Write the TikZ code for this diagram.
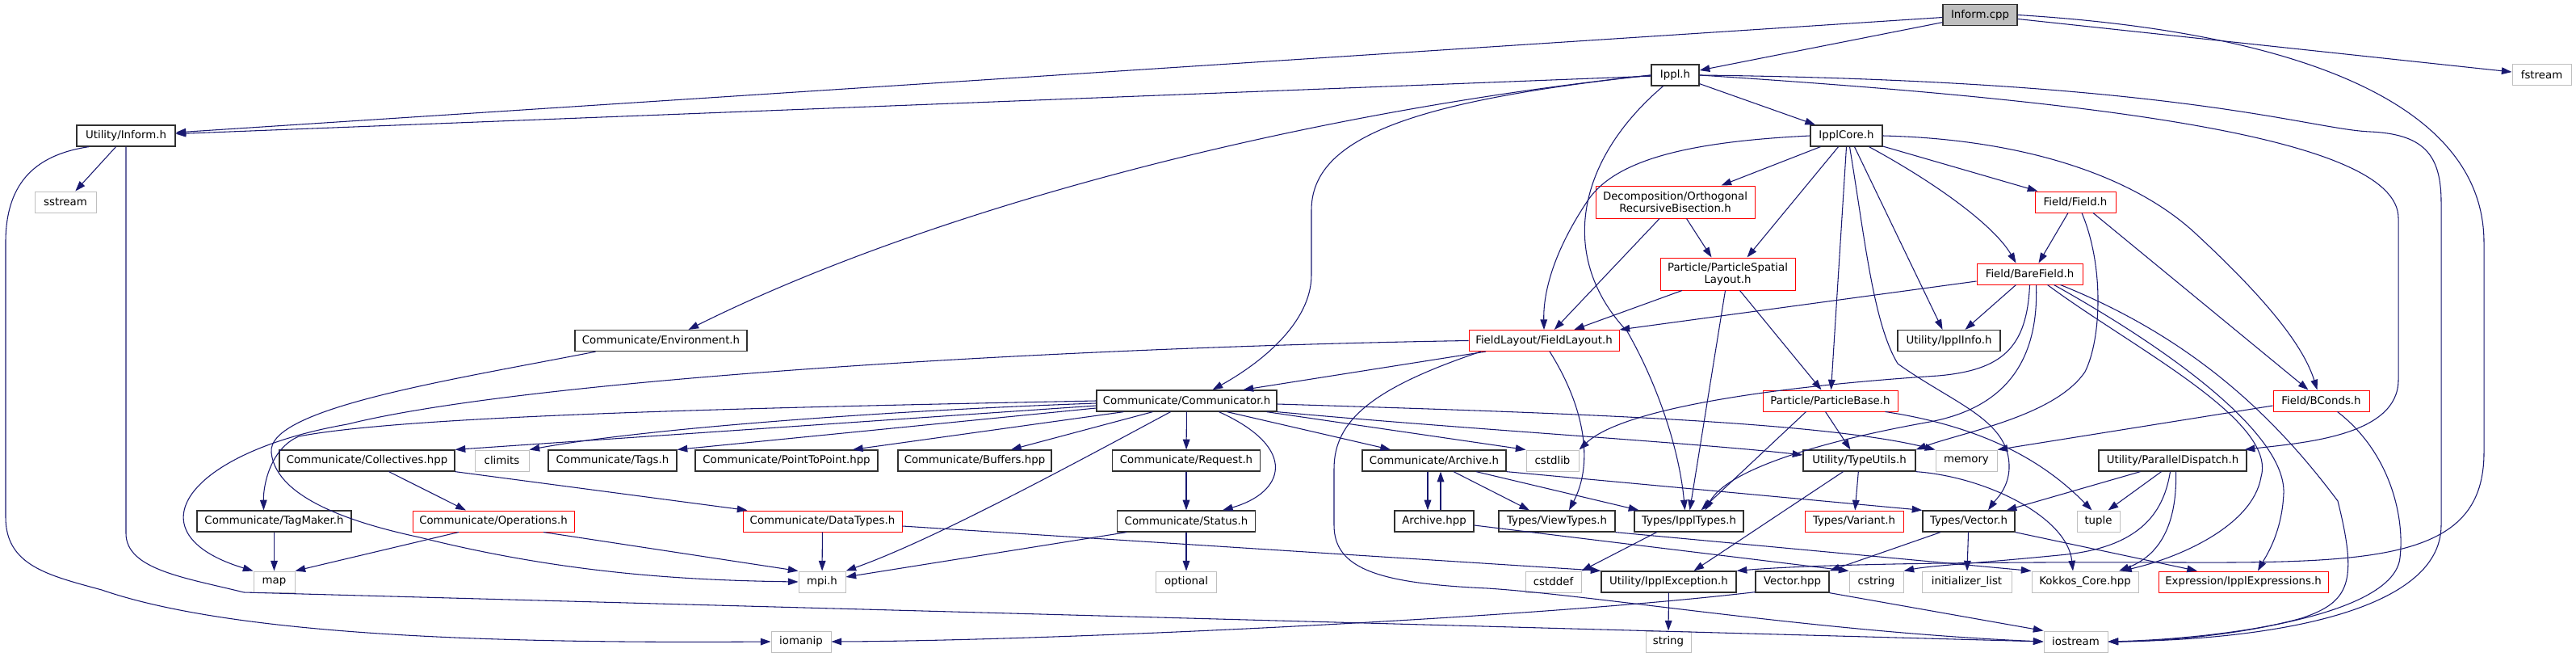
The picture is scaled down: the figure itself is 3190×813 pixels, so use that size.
\documentclass[tikz,border=0pt]{standalone}
\usepackage{fontspec}
\setmainfont{DejaVu Sans}
\usepackage{xcolor}
\usepackage{tikz}
\usetikzlibrary{arrows.meta, calc}
\definecolor{edgeblue}{HTML}{191970}
\definecolor{sysgray}{HTML}{BFBFBF}
\definecolor{boxline}{HTML}{303030}
\tikzset{
	hfile/.style={rectangle, draw=boxline, line width=0.95pt, fill=white, inner xsep=2pt, inner ysep=1pt, minimum height=19.5pt, align=center, font=\fontsize{10pt}{11.25pt}\selectfont},
	syshdr/.style={hfile, draw=sysgray, line width=0.75pt},
	cuthdr/.style={hfile, draw=red, line width=0.75pt},
	rootfile/.style={hfile, fill=sysgray},
	wd/.style={minimum width=#1*0.75pt},
	tall/.style={minimum height=30pt},
	inc/.style={draw=edgeblue, line width=0.8pt, -{Triangle[length=9.5pt,width=6.5pt]}}
}

\begin{document}
\begin{tikzpicture}[x=0.75pt, y=-0.75pt]
	\useasboundingbox (0,0) rectangle (3190,813);
	\node[rootfile, wd=92] (cpp) at (2452,18.5) {Inform.cpp};
	\node[hfile, wd=59] (ippl) at (2074.5,93) {Ippl.h};
	\node[syshdr, wd=73] (fst) at (3147.5,93) {fstream};
	\node[hfile, wd=122] (inf) at (156,168) {Utility/Inform.h};
	\node[hfile, wd=89] (core) at (2286.5,168) {IpplCore.h};
	\node[syshdr, wd=76] (sst) at (81,250) {sstream};
	\node[cuthdr, wd=197, tall] (orb) at (2074.5,250) {Decomposition/Orthogonal\\RecursiveBisection.h};
	\node[cuthdr, wd=100] (fld) at (2570,250) {Field/Field.h};
	\node[cuthdr, wd=167, tall] (psl) at (2139.5,339) {Particle/ParticleSpatial\\Layout.h};
	\node[cuthdr, wd=131] (bf) at (2513.5,339) {Field/BareField.h};
	\node[hfile, wd=213] (env) at (818.5,421.5) {Communicate/Environment.h};
	\node[cuthdr, wd=186] (fl) at (1912,421.5) {FieldLayout/FieldLayout.h};
	\node[hfile, wd=127] (info) at (2413.5,421.5) {Utility/IpplInfo.h};
	\node[hfile, wd=223] (comm) at (1469.5,496) {Communicate/Communicator.h};
	\node[cuthdr, wd=167] (pb) at (2266.5,496) {Particle/ParticleBase.h};
	\node[cuthdr, wd=119] (bc) at (2874.5,496) {Field/BConds.h};
	\node[hfile, wd=217] (coll) at (454.5,570) {Communicate/Collectives.hpp};
	\node[syshdr, wd=67] (clim) at (621.5,570) {climits};
	\node[hfile, wd=159] (tags) at (758.5,570) {Communicate/Tags.h};
	\node[hfile, wd=226] (p2p) at (974,570) {Communicate/PointToPoint.hpp};
	\node[hfile, wd=190] (buf) at (1207,570) {Communicate/Buffers.hpp};
	\node[hfile, wd=183] (req) at (1469,570) {Communicate/Request.h};
	\node[hfile, wd=178] (arch) at (1776,570) {Communicate/Archive.h};
	\node[syshdr, wd=65] (cstdlib) at (1922.5,570) {cstdlib};
	\node[hfile, wd=139] (tu) at (2302.5,570) {Utility/TypeUtils.h};
	\node[syshdr, wd=76] (mem) at (2435,570) {memory};
	\node[hfile, wd=183] (pd) at (2690.5,570) {Utility/ParallelDispatch.h};
	\node[hfile, wd=191] (tm) at (339.5,645) {Communicate/TagMaker.h};
	\node[cuthdr, wd=200] (ops) at (611,645) {Communicate/Operations.h};
	\node[cuthdr, wd=197] (dt) at (1018.5,645) {Communicate/DataTypes.h};
	\node[hfile, wd=171] (stat) at (1469,645) {Communicate/Status.h};
	\node[hfile, wd=98] (archpp) at (1776,645) {Archive.hpp};
	\node[hfile, wd=144] (vt) at (1928,645) {Types/ViewTypes.h};
	\node[hfile, wd=135] (it) at (2091.5,645) {Types/IpplTypes.h};
	\node[cuthdr, wd=122] (var) at (2296,645) {Types/Variant.h};
	\node[hfile, wd=114] (vec) at (2438,645) {Types/Vector.h};
	\node[syshdr, wd=53] (tup) at (2598.5,645) {tuple};
	\node[syshdr, wd=51] (map) at (339.5,720) {map};
	\node[syshdr, wd=58] (mpi) at (1018,720) {mpi.h};
	\node[syshdr, wd=75] (opt) at (1469,720) {optional};
	\node[syshdr, wd=69] (cstddef) at (1923.5,720) {cstddef};
	\node[hfile, wd=167] (exc) at (2066.5,720) {Utility/IpplException.h};
	\node[hfile, wd=91] (vhpp) at (2219.5,720) {Vector.hpp};
	\node[syshdr, wd=67] (cstr) at (2323.5,720) {cstring};
	\node[syshdr, wd=111] (il) at (2435.5,720) {initializer\_list};
	\node[syshdr, wd=132] (kk) at (2582,720) {Kokkos\_Core.hpp};
	\node[cuthdr, wd=210] (expr) at (2778,720) {Expression/IpplExpressions.h};
	\node[syshdr, wd=74] (iom) at (992,794) {iomanip};
	\node[syshdr, wd=56] (str) at (2066,794) {string};
	\node[syshdr, wd=79] (ios) at (2570.5,794) {iostream};

	\draw[inc] (cpp) -- (inf);
	\draw[inc] (cpp) -- (ippl);
	\draw[inc] (cpp) -- (fst);
	\draw[inc] (cpp.east) .. controls (2850,40) and (3076,130) .. (3076,300) -- (3076,560) .. controls (3076,690) and (2950,697) .. (2700,696) .. controls (2450,695) and (2250,698) .. (exc.north east);

	\draw[inc] (ippl) -- (inf);
	\draw[inc] (ippl.west) .. controls (1600,140) and (1150,260) .. ($(env.north)+(34,0)$);
	\draw[inc] (ippl.west) .. controls (1750,125) and (1624,170) .. (1624,260) -- (1624,340) .. controls (1624,400) and (1560,450) .. ($(comm.north)+(32,0)$);
	\draw[inc] ($(ippl.south)+(-15,0)$) .. controls (1950,200) and (1930,320) .. (2015,410) .. controls (2055,480) and (2080,560) .. ($(it.north)+(-5,0)$);
	\draw[inc] (ippl) -- (core);
	\draw[inc] (ippl.east) .. controls (2700,100) and (2860,160) .. (2935,163) .. controls (3000,166) and (3023,190) .. (3023,250) -- (3023,650) .. controls (3023,760) and (2800,792) .. (ios.east);
	\draw[inc] (ippl.east) .. controls (2600,125) and (2970,170) .. (2970,270) -- (2970,470) .. controls (2970,540) and (2850,548) .. ($(pd.north east)+(-3,0)$);

	\draw[inc] (inf) -- (sst);
	\draw[inc] ($(inf.south)+(-46,0)$) .. controls (40,192) and (7,230) .. (7,300) -- (7,640) .. controls (7,700) and (60,712) .. (126,730) .. controls (300,790) and (650,796) .. (iom.west);
	\draw[inc] (inf.south) -- (156,660) .. controls (156,705) and (230,715) .. (302,733) -- (ios.west);

	\draw[inc] ($(env.south)+(-81,0)$) .. controls (560,470) and (330,505) .. (336,560) .. controls (342,620) and (450,650) .. (520,665) .. controls (700,710) and (850,718) .. (mpi.west);

	\draw[inc] (fl.west) .. controls (1300,430) and (650,470) .. (430,525) .. controls (230,560) and (160,660) .. (map.north west);
	\draw[inc] ($(fl.south)+(-72,0)$) -- ($(comm.north)+(70,0)$);
	\draw[inc] ($(fl.south)+(7,0)$) .. controls (1960,500) and (1975,570) .. ($(vt.north)+(15,0)$);
	\draw[inc] ($(fl.south)+(-78,0)$) .. controls (1700,480) and (1652,520) .. (1652,580) -- (1652,650) .. controls (1652,705) and (1710,722) .. (1842,728) .. controls (1980,737) and (2250,782) .. (ios.west);

	\draw[inc] (orb) -- (fl);
	\draw[inc] ($(orb.south)+(14,0)$) -- ($(psl.north)+(-20,0)$);

	\draw[inc] ($(core.south west)+(13,0)$) -- ($(orb.north)+(57,0)$);
	\draw[inc] ($(core.south)+(-10,0)$) -- ($(psl.north)+(24,0)$);
	\draw[inc] (core.west) .. controls (2100,175) and (2000,195) .. (1965,250) .. controls (1925,310) and (1911,360) .. (fl.north);
	\draw[inc] (core.south) -- ($(pb.north)+(1,0)$);
	\draw[inc] ($(core.south)+(4,0)$) .. controls (2310,300) and (2320,400) .. (2350,450) .. controls (2420,500) and (2490,520) .. (2488,580) .. controls (2487,605) and (2470,620) .. ($(vec.north)+(24,0)$);
	\draw[inc] ($(core.south)+(10,0)$) -- ($(info.north)+(-8,0)$);
	\draw[inc] ($(core.south)+(28,0)$) .. controls (2400,228) and (2470,280) .. ($(bf.north)+(-17,0)$);
	\draw[inc] (core) -- (fld);
	\draw[inc] (core.east) .. controls (2500,172) and (2640,215) .. (2720,290) .. controls (2790,355) and (2850,420) .. ($(bc.north)+(-5,0)$);

	\draw[inc] ($(fld.south)+(-9,0)$) -- ($(bf.north)+(11,0)$);
	\draw[inc] ($(fld.south)+(22,0)$) -- ($(bc.north)+(-16,0)$);
	\draw[inc] ($(fld.south)+(8,0)$) .. controls (2606,330) and (2602,420) .. (2582,460) .. controls (2545,515) and (2430,535) .. (tu.north east);

	\draw[inc] ($(bf.west)+(0,9)$) -- (fl.north east);
	\draw[inc] ($(bf.south)+(-17,0)$) -- ($(info.north)+(20,0)$);
	\draw[inc] (bf.south) .. controls (2510,430) and (2480,458) .. (2400,465) .. controls (2200,478) and (2010,505) .. (cstdlib.north east);
	\draw[inc] ($(bf.south)+(8,0)$) .. controls (2525,450) and (2480,505) .. (2390,522) .. controls (2260,545) and (2140,580) .. ($(it.north)+(20,0)$);
	\draw[inc] ($(bf.south)+(22,0)$) .. controls (2640,430) and (2820,520) .. (2800,590) .. controls (2790,650) and (2700,690) .. ($(kk.north)+(45,0)$);
	\draw[inc] ($(bf.south)+(30,0)$) .. controls (2700,440) and (2830,540) .. (2828,610) .. controls (2826,660) and (2805,690) .. ($(expr.north)+(18,0)$);
	\draw[inc] ($(bf.south)+(38,0)$) .. controls (2720,420) and (2820,520) .. (2895,620) .. controls (2920,720) and (2910,745) .. (2850,765) .. controls (2760,790) and (2650,794) .. (ios.east);

	\draw[inc] ($(bc.west)+(0,6)$) -- (mem.north east);
	\draw[inc] ($(bc.south)+(20,0)$) .. controls (2960,560) and (2978,640) .. (2972,690) .. controls (2965,760) and (2760,790) .. (ios.east);

	\draw[inc] (psl) -- (fl);
	\draw[inc] ($(psl.south)+(-3,0)$) -- ($(it.north)+(1,0)$);
	\draw[inc] ($(psl.south)+(15,0)$) -- ($(pb.north)+(-11,0)$);

	\draw[inc] ($(pb.south)+(-30,0)$) -- ($(it.north)+(15,0)$);
	\draw[inc] ($(pb.south)+(-6,0)$) -- ($(tu.north)+(-11,0)$);
	\draw[inc] ($(pb.south)+(68,0)$) .. controls (2470,530) and (2540,580) .. ($(tup.north)+(-8,0)$);

	\draw[inc] (comm.west) .. controls (900,505) and (500,515) .. (370,540) .. controls (335,555) and (326,600) .. ($(tm.north)+(-13,0)$);
	\draw[inc] ($(comm.west)+(0,6)$) -- (coll.north east);
	\draw[inc] ($(comm.west)+(0,3)$) .. controls (1100,508) and (800,530) .. (clim.north east);
	\draw[inc] ($(comm.west)+(0,9)$) -- (tags.north east);
	\draw[inc] ($(comm.south west)+(34,0)$) -- ($(p2p.north)+(82,0)$);
	\draw[inc] ($(comm.south west)+(70,0)$) -- ($(buf.north)+(45,0)$);
	\draw[inc] ($(comm.south)+(-20,0)$) .. controls (1300,590) and (1150,670) .. (mpi.north east);
	\draw[inc] (comm) -- (req);
	\draw[inc] ($(comm.south)+(40,0)$) .. controls (1610,555) and (1590,610) .. ($(stat.north)+(45,0)$);
	\draw[inc] ($(comm.south)+(50,0)$) -- ($(arch.north)+(-54,0)$);
	\draw[inc] ($(comm.south east)+(-13,0)$) -- (cstdlib.north west);
	\draw[inc] ($(comm.east)+(0,4)$) .. controls (1900,510) and (2250,520) .. (mem.north west);
	\draw[inc] (comm.south east) .. controls (1800,530) and (2100,548) .. ($(tu.west)+(0,-7)$);

	\draw[inc] ($(coll.south)+(27,0)$) -- ($(ops.north)+(-34,0)$);
	\draw[inc] (coll.south east) -- ($(dt.north west)+(6,0)$);
	\draw[inc] (tm) -- (map);
	\draw[inc] ($(ops.south)+(-43,0)$) -- (map.north east);
	\draw[inc] ($(ops.south)+(62,0)$) -- (mpi.north west);
	\draw[inc] (dt) -- (mpi);
	\draw[inc] ($(dt.east)+(0,6)$) -- (exc.north west);
	\draw[inc] (req) -- (stat);
	\draw[inc] ($(stat.south west)+(12,0)$) -- ($(mpi.east)+(0,-6)$);
	\draw[inc] (stat) -- (opt);

	\draw[inc] ($(arch.south)+(-8,0)$) -- ($(archpp.north)+(-8,0)$);
	\draw[inc] ($(archpp.north)+(8,0)$) -- ($(arch.south)+(8,0)$);
	\draw[inc] ($(arch.south)+(24,0)$) -- ($(vt.north)+(-34,0)$);
	\draw[inc] ($(arch.south)+(52,0)$) -- ($(it.north west)+(6,0)$);
	\draw[inc] (arch.south east) -- (vec.north west);
	\draw[inc] ($(archpp.east)+(0,5)$) -- (cstr.north west);
	\draw[inc] (vt.south east) -- (kk.north west);
	\draw[inc] ($(it.south)+(-40,0)$) -- (cstddef.north east);

	\draw[inc] ($(tu.south)+(-20,0)$) -- ($(exc.north)+(31,0)$);
	\draw[inc] (tu) -- (var);
	\draw[inc] (tu.south east) .. controls (2460,590) and (2560,640) .. ($(kk.north)+(-15,0)$);

	\draw[inc] ($(pd.south)+(-40,0)$) -- ($(vec.north east)+(-11,0)$);
	\draw[inc] ($(pd.south)+(-14,0)$) -- ($(tup.north)+(12,0)$);
	\draw[inc] ($(pd.south)+(-3,0)$) .. controls (2680,630) and (2655,675) .. (2560,686) .. controls (2450,697) and (2390,700) .. (cstr.north east);
	\draw[inc] ($(pd.south)+(4,0)$) .. controls (2696,640) and (2680,685) .. ($(kk.north)+(42,0)$);

	\draw[inc] ($(vec.south)+(-35,0)$) -- (vhpp.north east);
	\draw[inc] (vec) -- (il);
	\draw[inc] (vec.south east) -- ($(expr.north)+(-57,0)$);
	\draw[inc] ($(vhpp.south west)+(0,-1)$) .. controls (1900,765) and (1300,793) .. (iom.east);
	\draw[inc] (vhpp.south east) -- (ios.north west);
	\draw[inc] (exc) -- (str);
\end{tikzpicture}
\end{document}
